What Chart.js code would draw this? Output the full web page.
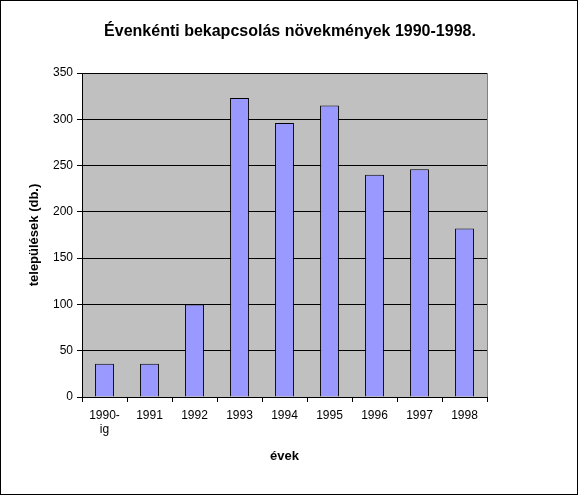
<!DOCTYPE html>
<html>
<head>
<meta charset="utf-8">
<script src="https://cdn.jsdelivr.net/npm/chart.js@4"></script>
<style>
  body { margin: 0; background: #fff; }
  #wrap { width: 576px; height: 493px; border: 1px solid #000; }
</style>
</head>
<body>
<div id="wrap"><canvas id="chart" width="576" height="493"></canvas></div>
<script>
const years = [['1990-', 'ig'], '1991', '1992', '1993', '1994', '1995', '1996', '1997', '1998'];
const values = [36, 36, 100, 323, 296, 315, 240, 246, 182];
const chartTitle = 'Évenkénti bekapcsolás növekmények 1990-1998.';

const bgPlugin = {
  id: 'bg',
  beforeDraw(chart) {
    const { ctx, chartArea: a } = chart;
    ctx.save();
    ctx.fillStyle = '#c0c0c0';
    ctx.fillRect(a.left, a.top, a.right - a.left, a.bottom - a.top);
    ctx.strokeStyle = '#808080';
    ctx.lineWidth = 1;
    ctx.strokeRect(a.left + 0.5, a.top + 0.5, a.right - a.left, a.bottom - a.top);
    ctx.restore();
  },
  afterDraw(chart) {
    const ctx = chart.ctx;
    ctx.save();
    ctx.font = 'bold 16px "Liberation Sans", Arial, sans-serif';
    ctx.fillStyle = '#000';
    ctx.textAlign = 'center';
    ctx.textBaseline = 'middle';
    ctx.fillText(chartTitle, 289, 31);
    ctx.restore();
  }
};

Chart.defaults.font.family = '"Liberation Sans", Arial, sans-serif';
Chart.defaults.font.size = 12;
Chart.defaults.color = '#000';

new Chart(document.getElementById('chart'), {
  type: 'bar',
  data: {
    labels: years,
    datasets: [{
      data: values,
      backgroundColor: '#9999ff',
      borderColor: '#000',
      borderWidth: 1,
      barPercentage: 0.42,
      categoryPercentage: 1
    }]
  },
  options: {
    responsive: false,
    animation: false,
    layout: { padding: { left: 22, right: 90, top: 72, bottom: 26 } },
    plugins: { legend: { display: false }, tooltip: { enabled: false } },
    scales: {
      x: {
        afterFit: s => { s.height = 71; },
        grid: { offset: true, drawOnChartArea: false, color: '#000', tickLength: 5 },
        border: { color: '#000' },
        ticks: { padding: 6 },
        title: { display: true, text: 'évek', font: { weight: 'bold', size: 13 }, padding: { top: 4, bottom: 4 } }
      },
      y: {
        min: 0, max: 350,
        afterFit: s => { s.width = 59; },
        ticks: { stepSize: 50, padding: 4 },
        grid: { color: '#000', tickLength: 5 },
        border: { color: '#000' },
        title: { display: true, text: 'települések (db.)', font: { weight: 'bold', size: 13 }, padding: 4 }
      }
    }
  },
  plugins: [bgPlugin]
});
</script>
</body>
</html>
